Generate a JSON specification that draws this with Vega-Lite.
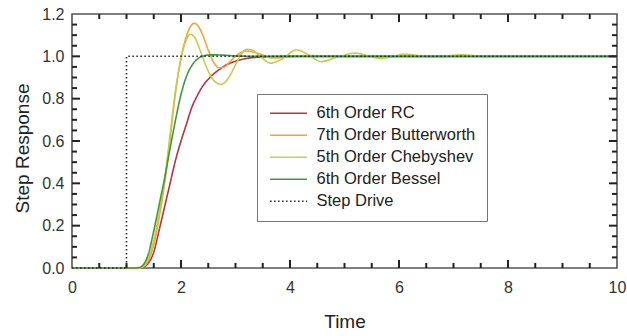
{
  "$schema": "https://vega.github.io/schema/vega-lite/v6.json",
  "width": 545,
  "height": 254,
  "autosize": {"type": "none"},
  "padding": {"left": 72, "top": 14, "right": 10, "bottom": 68},
  "background": "white",
  "config": {
    "view": {"stroke": "#555555", "strokeWidth": 1.6},
    "font": "Liberation Sans",
    "axis": {"grid": false, "domain": false, "ticks": false, "labelFontSize": 16, "labelColor": "#333333", "titleFontSize": 19, "titleFontWeight": "normal", "titleColor": "#222222"}
  },
  "datasets": {
    "filters": [
      {"t": 0, "v": 0, "s": "6th Order RC"},
      {"t": 1.2, "v": 0, "s": "6th Order RC"},
      {"t": 1.3, "v": 0.004, "s": "6th Order RC"},
      {"t": 1.4, "v": 0.022, "s": "6th Order RC"},
      {"t": 1.5, "v": 0.075, "s": "6th Order RC"},
      {"t": 1.6, "v": 0.18, "s": "6th Order RC"},
      {"t": 1.7, "v": 0.29, "s": "6th Order RC"},
      {"t": 1.8, "v": 0.40, "s": "6th Order RC"},
      {"t": 1.9, "v": 0.51, "s": "6th Order RC"},
      {"t": 2.0, "v": 0.60, "s": "6th Order RC"},
      {"t": 2.1, "v": 0.68, "s": "6th Order RC"},
      {"t": 2.2, "v": 0.76, "s": "6th Order RC"},
      {"t": 2.3, "v": 0.815, "s": "6th Order RC"},
      {"t": 2.4, "v": 0.86, "s": "6th Order RC"},
      {"t": 2.5, "v": 0.892, "s": "6th Order RC"},
      {"t": 2.6, "v": 0.917, "s": "6th Order RC"},
      {"t": 2.7, "v": 0.937, "s": "6th Order RC"},
      {"t": 2.8, "v": 0.955, "s": "6th Order RC"},
      {"t": 3.0, "v": 0.977, "s": "6th Order RC"},
      {"t": 3.2, "v": 0.99, "s": "6th Order RC"},
      {"t": 3.5, "v": 0.997, "s": "6th Order RC"},
      {"t": 4.0, "v": 1.0, "s": "6th Order RC"},
      {"t": 10, "v": 1.0, "s": "6th Order RC"},
      {"t": 0, "v": 0, "s": "7th Order Butterworth"},
      {"t": 1.2, "v": 0, "s": "7th Order Butterworth"},
      {"t": 1.3, "v": 0.005, "s": "7th Order Butterworth"},
      {"t": 1.4, "v": 0.035, "s": "7th Order Butterworth"},
      {"t": 1.5, "v": 0.11, "s": "7th Order Butterworth"},
      {"t": 1.6, "v": 0.24, "s": "7th Order Butterworth"},
      {"t": 1.7, "v": 0.40, "s": "7th Order Butterworth"},
      {"t": 1.8, "v": 0.61, "s": "7th Order Butterworth"},
      {"t": 1.9, "v": 0.83, "s": "7th Order Butterworth"},
      {"t": 2.0, "v": 0.99, "s": "7th Order Butterworth"},
      {"t": 2.1, "v": 1.095, "s": "7th Order Butterworth"},
      {"t": 2.2, "v": 1.15, "s": "7th Order Butterworth"},
      {"t": 2.25, "v": 1.156, "s": "7th Order Butterworth"},
      {"t": 2.3, "v": 1.148, "s": "7th Order Butterworth"},
      {"t": 2.4, "v": 1.10, "s": "7th Order Butterworth"},
      {"t": 2.5, "v": 1.03, "s": "7th Order Butterworth"},
      {"t": 2.6, "v": 0.972, "s": "7th Order Butterworth"},
      {"t": 2.7, "v": 0.946, "s": "7th Order Butterworth"},
      {"t": 2.8, "v": 0.95, "s": "7th Order Butterworth"},
      {"t": 2.9, "v": 0.975, "s": "7th Order Butterworth"},
      {"t": 3.0, "v": 1.0, "s": "7th Order Butterworth"},
      {"t": 3.2, "v": 1.025, "s": "7th Order Butterworth"},
      {"t": 3.4, "v": 1.015, "s": "7th Order Butterworth"},
      {"t": 3.7, "v": 0.992, "s": "7th Order Butterworth"},
      {"t": 4.0, "v": 0.998, "s": "7th Order Butterworth"},
      {"t": 4.3, "v": 1.004, "s": "7th Order Butterworth"},
      {"t": 4.8, "v": 1.0, "s": "7th Order Butterworth"},
      {"t": 10, "v": 1.0, "s": "7th Order Butterworth"},
      {"t": 0, "v": 0, "s": "5th Order Chebyshev"},
      {"t": 1.2, "v": 0, "s": "5th Order Chebyshev"},
      {"t": 1.3, "v": 0.007, "s": "5th Order Chebyshev"},
      {"t": 1.4, "v": 0.045, "s": "5th Order Chebyshev"},
      {"t": 1.5, "v": 0.13, "s": "5th Order Chebyshev"},
      {"t": 1.6, "v": 0.26, "s": "5th Order Chebyshev"},
      {"t": 1.7, "v": 0.42, "s": "5th Order Chebyshev"},
      {"t": 1.8, "v": 0.63, "s": "5th Order Chebyshev"},
      {"t": 1.9, "v": 0.84, "s": "5th Order Chebyshev"},
      {"t": 2.0, "v": 0.99, "s": "5th Order Chebyshev"},
      {"t": 2.1, "v": 1.08, "s": "5th Order Chebyshev"},
      {"t": 2.17, "v": 1.104, "s": "5th Order Chebyshev"},
      {"t": 2.25, "v": 1.09, "s": "5th Order Chebyshev"},
      {"t": 2.35, "v": 1.03, "s": "5th Order Chebyshev"},
      {"t": 2.45, "v": 0.96, "s": "5th Order Chebyshev"},
      {"t": 2.55, "v": 0.905, "s": "5th Order Chebyshev"},
      {"t": 2.65, "v": 0.875, "s": "5th Order Chebyshev"},
      {"t": 2.73, "v": 0.868, "s": "5th Order Chebyshev"},
      {"t": 2.8, "v": 0.876, "s": "5th Order Chebyshev"},
      {"t": 2.9, "v": 0.91, "s": "5th Order Chebyshev"},
      {"t": 3.0, "v": 0.96, "s": "5th Order Chebyshev"},
      {"t": 3.1, "v": 1.008, "s": "5th Order Chebyshev"},
      {"t": 3.2, "v": 1.033, "s": "5th Order Chebyshev"},
      {"t": 3.3, "v": 1.03, "s": "5th Order Chebyshev"},
      {"t": 3.45, "v": 1.0, "s": "5th Order Chebyshev"},
      {"t": 3.65, "v": 0.968, "s": "5th Order Chebyshev"},
      {"t": 3.85, "v": 0.987, "s": "5th Order Chebyshev"},
      {"t": 4.12, "v": 1.03, "s": "5th Order Chebyshev"},
      {"t": 4.35, "v": 1.006, "s": "5th Order Chebyshev"},
      {"t": 4.57, "v": 0.975, "s": "5th Order Chebyshev"},
      {"t": 4.85, "v": 0.995, "s": "5th Order Chebyshev"},
      {"t": 5.2, "v": 1.015, "s": "5th Order Chebyshev"},
      {"t": 5.4, "v": 1.005, "s": "5th Order Chebyshev"},
      {"t": 5.65, "v": 0.99, "s": "5th Order Chebyshev"},
      {"t": 5.9, "v": 1.0, "s": "5th Order Chebyshev"},
      {"t": 6.1, "v": 1.01, "s": "5th Order Chebyshev"},
      {"t": 6.6, "v": 0.997, "s": "5th Order Chebyshev"},
      {"t": 7.15, "v": 1.007, "s": "5th Order Chebyshev"},
      {"t": 7.6, "v": 1.0, "s": "5th Order Chebyshev"},
      {"t": 10, "v": 1.0, "s": "5th Order Chebyshev"},
      {"t": 0, "v": 0, "s": "6th Order Bessel"},
      {"t": 1.15, "v": 0, "s": "6th Order Bessel"},
      {"t": 1.25, "v": 0.004, "s": "6th Order Bessel"},
      {"t": 1.3, "v": 0.013, "s": "6th Order Bessel"},
      {"t": 1.4, "v": 0.065, "s": "6th Order Bessel"},
      {"t": 1.5, "v": 0.175, "s": "6th Order Bessel"},
      {"t": 1.6, "v": 0.30, "s": "6th Order Bessel"},
      {"t": 1.7, "v": 0.425, "s": "6th Order Bessel"},
      {"t": 1.8, "v": 0.565, "s": "6th Order Bessel"},
      {"t": 1.9, "v": 0.70, "s": "6th Order Bessel"},
      {"t": 2.0, "v": 0.82, "s": "6th Order Bessel"},
      {"t": 2.1, "v": 0.905, "s": "6th Order Bessel"},
      {"t": 2.2, "v": 0.957, "s": "6th Order Bessel"},
      {"t": 2.3, "v": 0.987, "s": "6th Order Bessel"},
      {"t": 2.4, "v": 1.001, "s": "6th Order Bessel"},
      {"t": 2.55, "v": 1.007, "s": "6th Order Bessel"},
      {"t": 2.75, "v": 1.006, "s": "6th Order Bessel"},
      {"t": 3.0, "v": 1.002, "s": "6th Order Bessel"},
      {"t": 3.5, "v": 1.0, "s": "6th Order Bessel"},
      {"t": 10, "v": 1.0, "s": "6th Order Bessel"}
    ],
    "step": [
      {"t": 0, "v": 0, "s": "Step Drive"},
      {"t": 1, "v": 0, "s": "Step Drive"},
      {"t": 1, "v": 1, "s": "Step Drive"},
      {"t": 10, "v": 1, "s": "Step Drive"}
    ],
    "xmajor": [{"t": 2}, {"t": 4}, {"t": 6}, {"t": 8}],
    "xminor": [{"t": 0.5}, {"t": 1}, {"t": 1.5}, {"t": 2.5}, {"t": 3}, {"t": 3.5}, {"t": 4.5}, {"t": 5}, {"t": 5.5}, {"t": 6.5}, {"t": 7}, {"t": 7.5}, {"t": 8.5}, {"t": 9}, {"t": 9.5}],
    "ymajor": [{"v": 0.2}, {"v": 0.4}, {"v": 0.6}, {"v": 0.8}, {"v": 1.0}],
    "yminor": [{"v": 0.05}, {"v": 0.1}, {"v": 0.15}, {"v": 0.25}, {"v": 0.3}, {"v": 0.35}, {"v": 0.45}, {"v": 0.5}, {"v": 0.55}, {"v": 0.65}, {"v": 0.7}, {"v": 0.75}, {"v": 0.85}, {"v": 0.9}, {"v": 0.95}, {"v": 1.05}, {"v": 1.1}, {"v": 1.15}]
  },
  "layer": [
    {
      "data": {"name": "filters"},
      "mark": {"type": "line", "interpolate": "monotone", "strokeWidth": 1.6},
      "encoding": {
        "x": {"field": "t", "type": "quantitative", "scale": {"domain": [0, 10], "nice": false},
          "axis": {"orient": "bottom", "values": [0, 2, 4, 6, 8, 10], "labelFlush": false, "labelPadding": 11, "title": "Time", "titleY": 53, "titleBaseline": "middle"}},
        "y": {"field": "v", "type": "quantitative", "scale": {"domain": [0, 1.2], "nice": false},
          "axis": {"orient": "left", "values": [0, 0.2, 0.4, 0.6, 0.8, 1.0, 1.2], "format": ".1f", "labelPadding": 8, "title": "Step Response", "titleX": -50, "titleY": 134, "titleBaseline": "middle"}},
        "color": {"field": "s", "type": "nominal", "title": null,
          "scale": {"domain": ["6th Order RC", "7th Order Butterworth", "5th Order Chebyshev", "6th Order Bessel", "Step Drive"], "range": ["#b8323f", "#f2a33a", "#c9c94a", "#3f9a3f", "#222222"]},
          "legend": {"orient": "none", "legendX": 185, "legendY": 80, "padding": 11, "strokeColor": "#777777", "fillColor": "white", "symbolType": "M-1,0H5", "symbolSize": 152, "symbolStrokeWidth": 1.6, "labelFontSize": 16.5, "labelColor": "#222222", "labelOffset": 32, "rowPadding": 5}},
        "strokeDash": {"field": "s", "type": "nominal", "title": null,
          "scale": {"domain": ["6th Order RC", "7th Order Butterworth", "5th Order Chebyshev", "6th Order Bessel", "Step Drive"], "range": [[1, 0], [1, 0], [1, 0], [1, 0], [1.5, 2.5]]}}
      }
    },
    {
      "data": {"name": "step"},
      "mark": {"type": "line", "strokeWidth": 1.5},
      "encoding": {
        "x": {"field": "t", "type": "quantitative"},
        "y": {"field": "v", "type": "quantitative"},
        "color": {"field": "s", "type": "nominal", "title": null},
        "strokeDash": {"field": "s", "type": "nominal", "title": null}
      }
    },
    {
      "data": {"name": "xmajor"},
      "mark": {"type": "rule", "color": "#222222", "strokeWidth": 2},
      "encoding": {"x": {"field": "t", "type": "quantitative"}, "y": {"datum": 0, "type": "quantitative"}, "y2": {"datum": 0.038}}
    },
    {
      "data": {"name": "xminor"},
      "mark": {"type": "rule", "color": "#222222", "strokeWidth": 2},
      "encoding": {"x": {"field": "t", "type": "quantitative"}, "y": {"datum": 0, "type": "quantitative"}, "y2": {"datum": 0.024}}
    },
    {
      "data": {"name": "xmajor"},
      "mark": {"type": "rule", "color": "#222222", "strokeWidth": 2},
      "encoding": {"x": {"field": "t", "type": "quantitative"}, "y": {"datum": 1.2, "type": "quantitative"}, "y2": {"datum": 1.162}}
    },
    {
      "data": {"name": "xminor"},
      "mark": {"type": "rule", "color": "#222222", "strokeWidth": 2},
      "encoding": {"x": {"field": "t", "type": "quantitative"}, "y": {"datum": 1.2, "type": "quantitative"}, "y2": {"datum": 1.176}}
    },
    {
      "data": {"name": "ymajor"},
      "mark": {"type": "rule", "color": "#222222", "strokeWidth": 2},
      "encoding": {"y": {"field": "v", "type": "quantitative"}, "x": {"datum": 0, "type": "quantitative"}, "x2": {"datum": 0.147}}
    },
    {
      "data": {"name": "yminor"},
      "mark": {"type": "rule", "color": "#222222", "strokeWidth": 2},
      "encoding": {"y": {"field": "v", "type": "quantitative"}, "x": {"datum": 0, "type": "quantitative"}, "x2": {"datum": 0.092}}
    },
    {
      "data": {"name": "ymajor"},
      "mark": {"type": "rule", "color": "#222222", "strokeWidth": 2},
      "encoding": {"y": {"field": "v", "type": "quantitative"}, "x": {"datum": 10, "type": "quantitative"}, "x2": {"datum": 9.853}}
    },
    {
      "data": {"name": "yminor"},
      "mark": {"type": "rule", "color": "#222222", "strokeWidth": 2},
      "encoding": {"y": {"field": "v", "type": "quantitative"}, "x": {"datum": 10, "type": "quantitative"}, "x2": {"datum": 9.908}}
    }
  ]
}
